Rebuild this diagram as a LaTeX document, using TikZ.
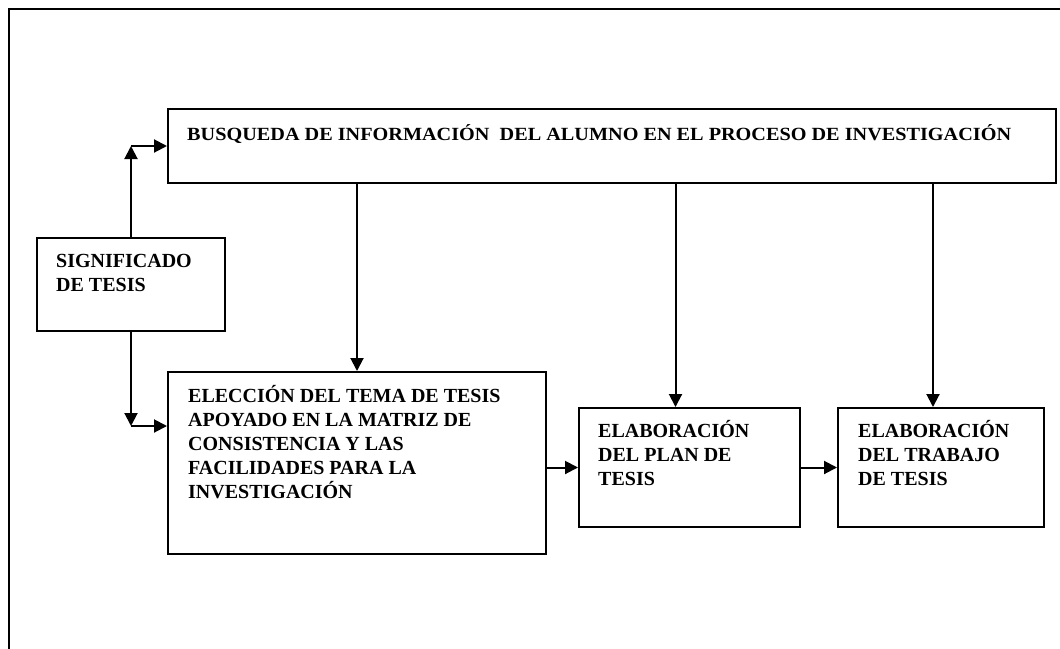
\documentclass[tikz,border=0pt]{standalone}
\usepackage{fontspec}
\setmainfont{Liberation Serif}
\usepackage{graphicx}
\usetikzlibrary{arrows.meta, positioning, calc}

\begin{document}
\begin{tikzpicture}[
    x=1pt, y=-1pt,
    box/.style={rectangle, draw=black, line width=2pt, inner sep=0pt},
    txt/.style={anchor=north west, inner sep=0pt, align=left, font=\fontsize{20}{24}\selectfont\bfseries, execute at begin node=\rule{0pt}{19pt}},
    link/.style={-{Triangle[length=13pt, width=13pt]}, line width=2pt}
  ]
  \useasboundingbox (0,0) rectangle (1060,648);
  \clip (0,0) rectangle (1060,648);

  % --- FRAME ---
  \draw[line width=2pt] (9,9) rectangle (1090,690);

  % --- BOXES ---
  \node[box, minimum width=888pt, minimum height=74pt] (busqueda) at (612,146) {};
  \node[box, minimum width=188pt, minimum height=93pt] (significado) at (131,284.5) {};
  \node[box, minimum width=378pt, minimum height=182pt] (eleccion) at (357,463) {};
  \node[box, minimum width=221pt, minimum height=119pt] (plan) at (689.5,467.5) {};
  \node[box, minimum width=206pt, minimum height=119pt] (trabajo) at (941,467.5) {};

  % --- TEXTS ---
  \node[txt] (busquedaT) at ([shift={(20,13)}]busqueda.north west) {\resizebox{824pt}{\height}{\fontsize{18.6}{22}\selectfont BUSQUEDA DE INFORMACIÓN\ \ DEL ALUMNO EN EL PROCESO DE INVESTIGACIÓN}};
  \node[txt] (significadoT) at ([shift={(20,17)}]significado.north west) {SIGNIFICADO\\DE TESIS};
  \node[txt] (eleccionT) at ([shift={(21,14)}]eleccion.north west) {ELECCIÓN DEL TEMA DE TESIS\\APOYADO EN LA MATRIZ DE\\CONSISTENCIA Y LAS\\FACILIDADES PARA LA\\INVESTIGACIÓN};
  \node[txt] (planT) at ([shift={(20,13)}]plan.north west) {ELABORACIÓN\\DEL PLAN DE\\TESIS};
  \node[txt] (trabajoT) at ([shift={(21,13)}]trabajo.north west) {ELABORACIÓN\\DEL TRABAJO\\DE TESIS};

  % --- CONNECTIONS ---
  \coordinate (topbend) at (significado.north |- busqueda.west);
  \coordinate (lowbend) at ($(significado.south)+(0,94)$);
  \coordinate (planin) at ([xshift=-14pt]plan.north);
  \coordinate (trabajoin) at ([xshift=-8pt]trabajo.north);
  \draw[link] (significado.north) -- (topbend);
  \draw[link] (topbend) -- (busqueda.west);
  \draw[link] (significado.south) -- (lowbend);
  \draw[link] (lowbend) -- (lowbend -| eleccion.west);
  \draw[link] (busqueda.south -| eleccion.north) -- (eleccion.north);
  \draw[link] (planin |- busqueda.south) -- (planin);
  \draw[link] (trabajoin |- busqueda.south) -- (trabajoin);
  \draw[link] (eleccion.east |- plan.west) -- (plan.west);
  \draw[link] (plan.east) -- (trabajo.west);
\end{tikzpicture}
\end{document}
